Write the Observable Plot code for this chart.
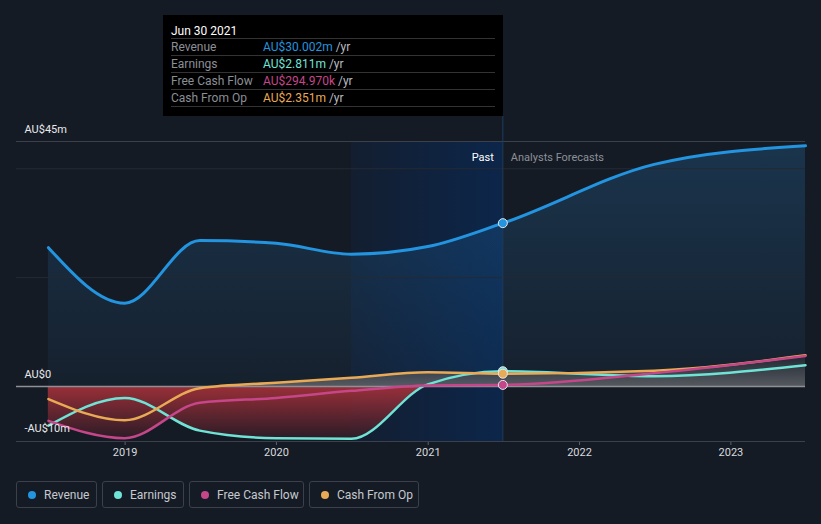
<!DOCTYPE html>
<html>
<head>
<meta charset="utf-8">
<script src="https://cdn.jsdelivr.net/npm/d3@7"></script>
<script src="https://cdn.jsdelivr.net/npm/@observablehq/plot@0.6"></script>
<style>
  html, body { margin: 0; padding: 0; background: #151b25; }
  body { font-family: Roboto, "Noto Sans", sans-serif; }
  #wrap { position: relative; width: 821px; height: 524px; overflow: hidden; background: #151b25; }
  #chart svg { display: block; }
  #tip { position: absolute; left: 163px; top: 15px; width: 340px; height: 101px; background: #000; box-sizing: border-box; padding: 0 8px; }
  #tip .hd { height: 24px; padding-top: 8px; box-sizing: border-box; line-height: 16px; color: #fff; font-size: 12px; border-bottom: 1px solid #333; }
  #tip .row { height: 17px; line-height: 16px; font-size: 12px; border-bottom: 1px solid #333; box-sizing: border-box; display: flex; white-space: pre; }
  #tip .lab { width: 92px; color: #8b8f96; }
  #tip .yr { color: #b8bbc0; }
  #legend { position: absolute; left: 16px; top: 481px; display: flex; gap: 5px; }
  #legend .item { box-sizing: border-box; height: 27px; border: 1px solid #3b404a; border-radius: 3px; display: flex; align-items: center; padding-left: 11px; color: #c6c9ce; font-size: 12px; }
  #legend .dot { width: 8px; height: 8px; border-radius: 50%; margin-right: 8px; }
</style>
</head>
<body>
<div id="wrap">
  <div id="chart"></div>
  <div id="tip"></div>
  <div id="legend"></div>
</div>
<script>
// ---- data (AU$ millions) ----
const dates = ["2018-06-30", "2018-12-31", "2019-06-30", "2019-12-31", "2020-06-30", "2020-12-31", "2021-06-30", "2022-06-30", "2023-06-30"];
const revenue      = [25.5, 15.3, 26.8, 26.3, 24.3, 25.7, 30.002, 40.8, 44.2];
const earnings     = [-7.2, -2.1, -8.1, -9.5, -9.6, 0.4, 2.811, 1.9, 3.9];
const freeCashFlow = [-6.3, -9.5, -3.0, -2.1, -0.8, 0.2, 0.29497, 2.45, 5.6];
const cashFromOp   = [-2.3, -6.2, -0.3, 0.7, 1.6, 2.6, 2.351, 2.9, 5.75];

const seriesNames  = ["Revenue", "Earnings", "Free Cash Flow", "Cash From Op"];
const seriesColors = ["#2394df", "#6fe3d5", "#c6468a", "#e9aa55"];
const seriesValues = [revenue, earnings, freeCashFlow, cashFromOp];

const xTicks = ["2019-01-01", "2020-01-01", "2021-01-01", "2022-01-01", "2023-01-01"];
const xDomain = ["2018-04-14", "2023-06-30"];
const highlightRange = ["2020-06-30", "2021-06-30"];
const pastEnd = "2021-06-30";
const tooltipDate = "Jun 30 2021";

const yDomain = [-10.1, 45];
const yLabelValues = [45, 0, -10];
const yLabelTexts = ["AU$45m", "AU$0", "-AU$10m"];
const gridValues = [20, 40];

// ---- build ----
const parse = d3.utcParse("%Y-%m-%d");
const rows = seriesNames.flatMap((name, s) =>
  dates.map((d, i) => ({ series: name, date: parse(d), value: seriesValues[s][i] })));
const revRows = rows.filter(r => r.series === "Revenue");
const pastDate = parse(pastEnd);
const pastRows = rows.filter(r => +r.date === +pastDate);
const dotOrder = ["Revenue", "Earnings", "Cash From Op", "Free Cash Flow"];
pastRows.sort((a, b) => dotOrder.indexOf(a.series) - dotOrder.indexOf(b.series));

const curve = "monotone-x";
const plot = Plot.plot({
  width: 821,
  height: 470,
  marginLeft: 16,
  marginRight: 16,
  marginTop: 141,
  marginBottom: 29,
  style: { background: "#151b25", color: "#d8dade", fontSize: "11px", fontFamily: "Roboto, 'Noto Sans', sans-serif", overflow: "visible" },
  x: { type: "utc", domain: xDomain.map(parse), ticks: xTicks.map(parse), tickFormat: d => String(d.getUTCFullYear()), tickSize: 4, tickPadding: 3, label: null },
  y: { domain: yDomain, axis: null },
  color: { domain: seriesNames, range: seriesColors },
  marks: [
    Plot.rect([0], { x1: () => parse(highlightRange[0]), x2: () => parse(highlightRange[1]), y1: () => yDomain[0], y2: () => yDomain[1], fill: "url(#hlGrad)" }),
    Plot.ruleY(gridValues, { stroke: "#242a34" }),
    Plot.ruleY([yDomain[1]], { stroke: "#3b404a" }),
    Plot.ruleY([yDomain[0]], { stroke: "#3b404a" }),
    Plot.ruleY([0], { stroke: "#8e9096", strokeWidth: 1.5 }),
    Plot.ruleX([pastDate], { y1: yDomain[0], y2: 49.6, stroke: "#1d3c60" }),
    Plot.line(revRows, { x: "date", y: "value", stroke: "series", strokeWidth: 3, curve }),
    Plot.line(rows.filter(r => r.series === "Earnings"), { x: "date", y: "value", stroke: "series", strokeWidth: 2.5, curve }),
    Plot.line(rows.filter(r => r.series === "Cash From Op"), { x: "date", y: "value", stroke: "series", strokeWidth: 2.5, curve }),
    Plot.line(rows.filter(r => r.series === "Free Cash Flow"), { x: "date", y: "value", stroke: "series", strokeWidth: 2.5, curve }),
    Plot.dot(pastRows, { x: "date", y: "value", fill: "series", r: 4.5, stroke: "#e6e8ec", strokeWidth: 1 }),
    Plot.text(yLabelValues, { y: d => d, text: (d, i) => yLabelTexts[i], frameAnchor: "left", textAnchor: "start", dx: 8, dy: -12, fill: "#e8e9eb", fontSize: 11 }),
    Plot.text(["Past"], { x: () => pastDate, text: d => d, frameAnchor: "top", dy: 12, dx: -9, textAnchor: "end", fill: "#ffffff", fontSize: 11 }),
    Plot.text(["Analysts Forecasts"], { x: () => pastDate, text: d => d, frameAnchor: "top", dy: 12, dx: 8, textAnchor: "start", fill: "#8c9096", fontSize: 11 })
  ]
});

// scales of the plot
const xs = plot.scale("x"), ys = plot.scale("y");
const X = v => xs.apply(v), Y = v => ys.apply(v);

// gradients
const defs = d3.select(plot).insert("defs", ":first-child");
const hl = defs.append("linearGradient").attr("id", "hlGrad").attr("x1", 0).attr("x2", 1).attr("y1", 0).attr("y2", 0);
hl.append("stop").attr("offset", 0).attr("stop-color", "#131e30");
hl.append("stop").attr("offset", 1).attr("stop-color", "#0c264a");
const rg = defs.append("linearGradient").attr("id", "revGrad").attr("gradientUnits", "userSpaceOnUse")
  .attr("x1", 0).attr("x2", 0).attr("y1", Y(45)).attr("y2", Y(0));
rg.append("stop").attr("offset", 0).attr("stop-color", "#2a86cc").attr("stop-opacity", 0.24);
rg.append("stop").attr("offset", 1).attr("stop-color", "#2a86cc").attr("stop-opacity", 0.05);
const fg = defs.append("linearGradient").attr("id", "flowGrad").attr("gradientUnits", "userSpaceOnUse")
  .attr("x1", 0).attr("x2", 0).attr("y1", Y(6)).attr("y2", Y(-10));
const zOff = 6 / 16;
fg.append("stop").attr("offset", 0).attr("stop-color", "#1e252f");
fg.append("stop").attr("offset", zOff).attr("stop-color", "#64666b");
fg.append("stop").attr("offset", zOff).attr("stop-color", "#b7343c");
fg.append("stop").attr("offset", 1).attr("stop-color", "#2c1c27");

// filled areas (to zero) drawn with the plot's scales, placed just above the highlight band
const areaGen = d3.area().x(d => X(d.date)).y0(Y(0)).y1(d => Y(d.value)).curve(d3.curveMonotoneX);
const areaG = d3.create("svg:g").attr("aria-label", "areas");
areaG.append("path").attr("d", areaGen(revRows)).attr("fill", "url(#revGrad)");
const flowG = areaG.append("g").attr("opacity", 0.82);
seriesNames.slice(1).forEach(n => {
  flowG.append("path").attr("d", areaGen(rows.filter(r => r.series === n))).attr("fill", "url(#flowGrad)");
});
const rectG = plot.querySelector('g[aria-label="rect"]');
const before = rectG ? rectG.nextSibling : plot.querySelector('g[aria-label="rule"]');
plot.insertBefore(areaG.node(), before);

// x axis tick colour
plot.querySelectorAll('g[aria-label^="x-axis tick"]:not([aria-label$="label"])').forEach(el => el.setAttribute("stroke", "#5b616b"));

document.getElementById("chart").appendChild(plot);

// tooltip
const fmt = v => Math.abs(v) < 1 ? "AU$" + (v * 1000).toFixed(3) + "k" : "AU$" + v.toFixed(3) + "m";
const tip = document.getElementById("tip");
const pi = dates.indexOf(pastEnd);
let html = `<div class="hd">${tooltipDate}</div>`;
seriesNames.forEach((n, s) => {
  html += `<div class="row"><span class="lab">${n}</span><span style="color:${seriesColors[s]}">${fmt(seriesValues[s][pi])}</span><span class="yr"> /yr</span></div>`;
});
tip.innerHTML = html;

// legend
const legendWidths = [81, 82, 115, 110];
const lg = document.getElementById("legend");
seriesNames.forEach((n, s) => {
  const it = document.createElement("div");
  it.className = "item";
  it.style.width = legendWidths[s] + "px";
  it.innerHTML = `<span class="dot" style="background:${seriesColors[s]}"></span><span>${n}</span>`;
  lg.appendChild(it);
});
</script>
</body>
</html>
